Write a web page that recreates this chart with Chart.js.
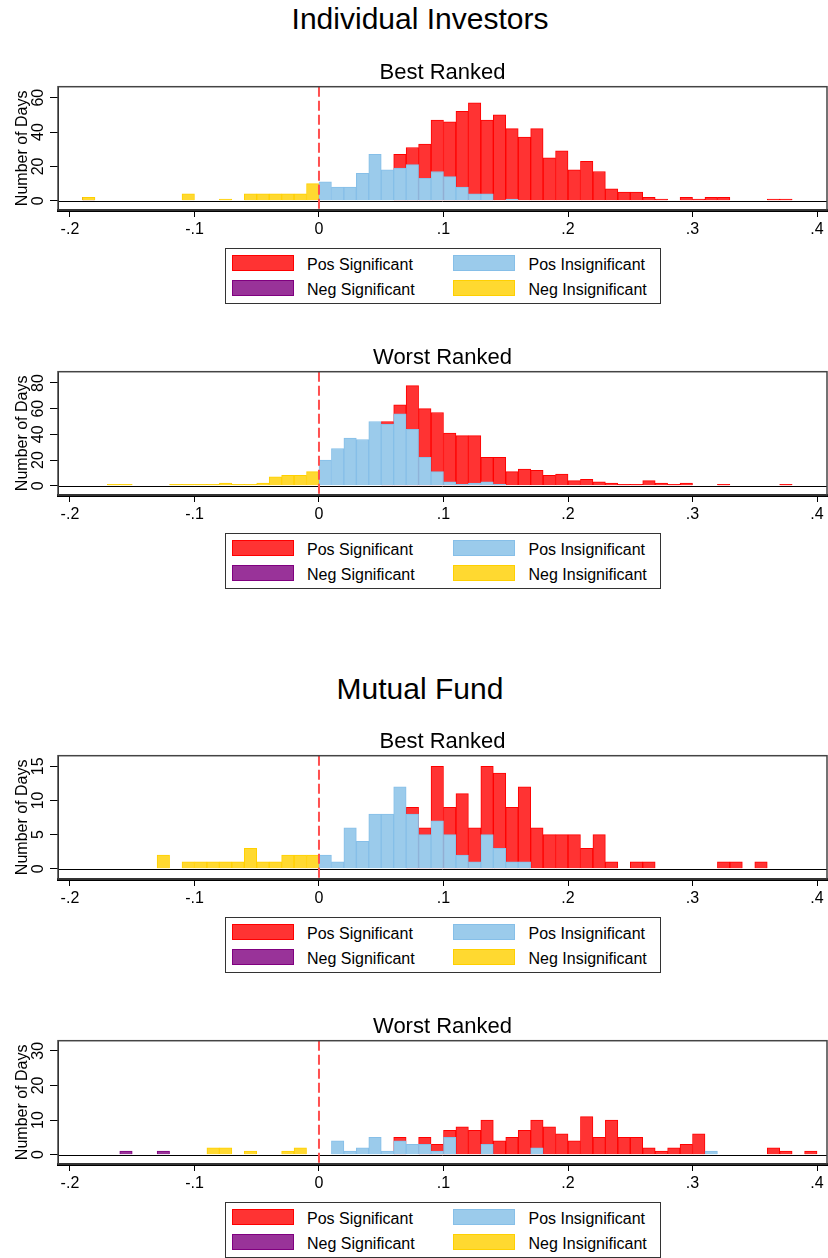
<!DOCTYPE html>
<html>
<head>
<meta charset="utf-8">
<script src="https://cdn.jsdelivr.net/npm/chart.js@4.4.1/dist/chart.umd.min.js"></script>
<style>
  body { margin: 0; background: #fff; font-family: "Liberation Sans", Arial, sans-serif; }
  #page { position: relative; width: 828px; height: 1258px; overflow: hidden; background: #fff; }
  .bigtitle { position: absolute; left: 0; width: 840px; text-align: center; font-size: 30px; line-height: 30px; color: #000; }
  canvas { position: absolute; left: 0; }
  .legend { position: absolute; left: 225px; width: 434px; height: 54px; border: 1px solid #333; background: #fff; }
  .sw { position: absolute; width: 60px; height: 14px; border: 1px solid; }
  .lt { position: absolute; font-size: 16px; line-height: 16px; color: #000; white-space: nowrap; }
</style>
</head>
<body>
<div id="page">
  <div class="bigtitle" style="top:4px">Individual Investors</div>
  <div class="bigtitle" style="top:674px">Mutual Fund</div>
</div>
<script>
// histogram bins (left edges), width .01
const binWidth = 0.01;
const negBins = [-0.19, -0.18, -0.17, -0.16, -0.15, -0.14, -0.13, -0.12, -0.11, -0.10,
                 -0.09, -0.08, -0.07, -0.06, -0.05, -0.04, -0.03, -0.02, -0.01];
const posBins = [0.00, 0.01, 0.02, 0.03, 0.04, 0.05, 0.06, 0.07, 0.08, 0.09,
                 0.10, 0.11, 0.12, 0.13, 0.14, 0.15, 0.16, 0.17, 0.18, 0.19,
                 0.20, 0.21, 0.22, 0.23, 0.24, 0.25, 0.26, 0.27, 0.28, 0.29,
                 0.30, 0.31, 0.32, 0.33, 0.34, 0.35, 0.36, 0.37, 0.38, 0.39];
const xTicks = [-0.2, -0.1, 0, 0.1, 0.2, 0.3, 0.4];

const seriesNames = ['Pos Significant', 'Pos Insignificant', 'Neg Significant', 'Neg Insignificant'];
const fillColors = ['#ff3333', '#9bcbeb', '#993399', '#ffd930'];
const lineColors = ['#ff0000', '#86bfe8', '#800080', '#ffd000'];

// Individual investors - best ranked
const iiBestPosSig   = [0,0,0,0,0,0,27,31,33,47,46,52,57,47,50,42,37,42,25,29,18,23,17,7,5,5,2,1,0,2,1,2,2,0,0,0,1,1,0,0];
const iiBestPosInsig = [11,8,8,16,27,18,19,21,13,17,14,8,4,4,0,1,0,0,0,0,0,0,0,0,0,0,0,0,0,0,0,0,0,0,0,0,0,0,0,0];
const iiBestNegSig   = [2,0,0,0,0,0,0,0,0,0,0,0,0,0,0,0,0,0,0];
const iiBestNegInsig = [2,0,0,0,0,0,0,0,4,0,0,1,0,4,4,4,4,4,10];
const iiBestYTicks   = [0, 20, 40, 60];

// Individual investors - worst ranked
const iiWorstPosSig   = [0,0,0,0,0,50,63,78,60,57,41,39,39,22,22,11,13,12,8,9,4,5,3,2,1,1,4,2,1,2,0,0,1,0,0,0,0,1,0,0];
const iiWorstPosInsig = [20,29,37,36,50,48,56,44,22,11,3,1,2,3,1,0,0,0,0,0,0,0,0,0,0,0,0,0,0,0,0,0,0,0,0,0,0,0,0,0];
const iiWorstNegSig   = [0,0,0,0,0,0,0,0,0,0,0,0,0,0,0,0,0,0,0];
const iiWorstNegInsig = [0,0,1,1,0,0,0,1,1,1,1,2,1,1,2,7,8,8,11];
const iiWorstYTicks   = [0, 20, 40, 60, 80];

// Mutual fund - best ranked
const mfBestPosSig   = [0,0,0,0,0,0,0,9,6,15,9,11,6,15,14,9,12,6,5,5,5,3,5,1,0,1,1,0,0,0,0,0,1,1,0,1,0,0,0,0];
const mfBestPosInsig = [2,1,6,4,8,8,12,8,5,7,5,2,1,5,3,1,1,0,0,0,0,0,0,0,0,0,0,0,0,0,0,0,0,0,0,0,0,0,0,0];
const mfBestNegSig   = [0,0,0,0,0,0,0,0,0,0,0,0,0,0,0,0,0,0,0];
const mfBestNegInsig = [0,0,0,0,0,0,2,0,1,1,1,1,1,3,1,1,2,2,2];
const mfBestYTicks   = [0, 5, 10, 15];

// Mutual fund - worst ranked
const mfWorstPosSig   = [0,0,0,0,0,0,5,0,5,3,7,8,7,10,4,5,7,10,8,6,4,11,5,10,5,5,2,1,2,3,6,0,0,0,0,0,2,1,0,1];
const mfWorstPosInsig = [0,4,1,2,5,1,4,3,3,1,5,0,0,3,0,0,0,2,0,0,0,0,0,0,0,0,0,0,0,0,0,1,0,0,0,0,0,0,0,0];
const mfWorstNegSig   = [0,0,0,1,0,0,1,0,0,0,0,0,0,0,0,0,0,0,0];
const mfWorstNegInsig = [0,0,0,0,0,0,0,0,0,0,2,2,0,1,0,0,1,2,0];
const mfWorstYTicks   = [0, 10, 20, 30];

const panels = [
  { top: 55,   legendTop: 248,  title: 'Best Ranked',  yMin: -5.4,  yMax: 66.4, yTicks: iiBestYTicks,
    series: [iiBestPosSig, iiBestPosInsig, iiBestNegSig, iiBestNegInsig] },
  { top: 340,  legendTop: 533,  title: 'Worst Ranked', yMin: -7.25, yMax: 88.8, yTicks: iiWorstYTicks,
    series: [iiWorstPosSig, iiWorstPosInsig, iiWorstNegSig, iiWorstNegInsig] },
  { top: 724,  legendTop: 917,  title: 'Best Ranked',  yMin: -1.5,  yMax: 16.55, yTicks: mfBestYTicks,
    series: [mfBestPosSig, mfBestPosInsig, mfBestNegSig, mfBestNegInsig] },
  { top: 1009, legendTop: 1202, title: 'Worst Ranked', yMin: -2.7,  yMax: 32.9, yTicks: mfWorstYTicks,
    series: [mfWorstPosSig, mfWorstPosInsig, mfWorstNegSig, mfWorstNegInsig] }
];

const FONT = '"Liberation Sans", Arial, sans-serif';

function toPoints(bins, counts) {
  const pts = [];
  counts.forEach((c, i) => { if (c > 0) pts.push({ x: bins[i] + binWidth / 2, y: c }); });
  return pts;
}

function fmtTick(v) {
  if (Math.abs(v) < 1e-9) return '0';
  return (v < 0 ? '-' : '') + Math.abs(v).toFixed(1).replace(/^0/, '');
}

const decor = {
  id: 'decor',
  afterDatasetsDraw(chart) {
    const { ctx, chartArea: a, scales: { x, y } } = chart;
    ctx.save();
    // zero line
    const y0 = Math.round(y.getPixelForValue(0)) + 0.5;
    ctx.strokeStyle = '#000';
    ctx.lineWidth = 1;
    ctx.beginPath(); ctx.moveTo(a.left, y0); ctx.lineTo(a.right, y0); ctx.stroke();
    // dashed reference line at 0
    const x0 = x.getPixelForValue(0);
    ctx.strokeStyle = '#ff5050';
    ctx.lineWidth = 2;
    ctx.setLineDash([10, 4]);
    ctx.beginPath(); ctx.moveTo(x0, a.top); ctx.lineTo(x0, a.bottom); ctx.stroke();
    ctx.setLineDash([]);
    // plot region frame
    ctx.strokeStyle = '#444';
    ctx.lineWidth = 1.5;
    ctx.strokeRect(a.left, a.top, a.right - a.left, a.bottom - a.top);
    ctx.restore();
  },
  afterDraw(chart, args, opts) {
    const { ctx, chartArea: a, scales: { y } } = chart;
    ctx.save();
    ctx.fillStyle = '#000';
    // subtitle
    ctx.font = '22px ' + FONT;
    ctx.textAlign = 'center';
    ctx.textBaseline = 'alphabetic';
    ctx.fillText(opts.title, (a.left + a.right) / 2, a.top - 7.5);
    // y axis title, rotated
    ctx.font = '16px ' + FONT;
    ctx.save();
    ctx.translate(26.5, (a.top + a.bottom) / 2);
    ctx.rotate(-Math.PI / 2);
    ctx.fillText('Number of Days', 0, 0);
    ctx.restore();
    // y tick labels, rotated like the original
    ctx.font = '16px ' + FONT;
    y.ticks.forEach(t => {
      ctx.save();
      ctx.translate(43, y.getPixelForValue(t.value));
      ctx.rotate(-Math.PI / 2);
      ctx.fillText(String(t.value), 0, 0);
      ctx.restore();
    });
    ctx.restore();
  }
};

function makeLegend(top) {
  const box = document.createElement('div');
  box.className = 'legend';
  box.style.top = top + 'px';
  const cols = [5.5, 227];
  const rows = [6, 31];
  seriesNames.forEach((name, i) => {
    const cx = cols[i % 2], cy = rows[Math.floor(i / 2)];
    const sw = document.createElement('div');
    sw.className = 'sw';
    sw.style.left = cx + 'px';
    sw.style.top = cy + 'px';
    sw.style.background = fillColors[i];
    sw.style.borderColor = lineColors[i];
    box.appendChild(sw);
    const lt = document.createElement('div');
    lt.className = 'lt';
    lt.style.left = (cx + 75.5) + 'px';
    lt.style.top = (cy + 1.5) + 'px';
    lt.textContent = name;
    box.appendChild(lt);
  });
  document.getElementById('page').appendChild(box);
}

panels.forEach((p, idx) => {
  const canvas = document.createElement('canvas');
  canvas.width = 828;
  canvas.height = 190;
  canvas.style.top = p.top + 'px';
  document.getElementById('page').appendChild(canvas);

  const bins = [posBins, posBins, negBins, negBins];
  const drawOrder = [2, 1, 2, 1]; // blue over red, yellow over purple

  new Chart(canvas.getContext('2d'), {
    type: 'bar',
    data: {
      datasets: p.series.map((s, i) => ({
        label: seriesNames[i],
        data: toPoints(bins[i], s),
        backgroundColor: fillColors[i],
        borderColor: lineColors[i],
        borderWidth: 1,
        borderSkipped: 'start',
        order: drawOrder[i],
        grouped: false,
        barPercentage: 1,
        categoryPercentage: 1
      }))
    },
    options: {
      responsive: false,
      animation: false,
      devicePixelRatio: 1,
      layout: { padding: { top: 31.7, right: 1, bottom: 5, left: 0 } },
      plugins: {
        legend: { display: false },
        tooltip: { enabled: false },
        decor: { title: p.title }
      },
      scales: {
        x: {
          type: 'linear',
          offset: false,
          min: -0.2096,
          max: 0.408,
          afterBuildTicks: s => { s.ticks = xTicks.map(v => ({ value: v })); },
          afterFit: s => { s.height = 30; },
          grid: { drawOnChartArea: false, drawTicks: true, tickLength: 7, color: '#000', offset: false },
          border: { display: true, color: '#000', width: 3 },
          ticks: {
            color: '#000',
            font: { size: 16, family: FONT },
            padding: 3,
            maxRotation: 0,
            autoSkip: false,
            callback: v => fmtTick(v)
          }
        },
        y: {
          min: p.yMin,
          max: p.yMax,
          afterBuildTicks: s => { s.ticks = p.yTicks.map(v => ({ value: v })); },
          afterFit: s => { s.width = 58; },
          grid: { drawOnChartArea: false, drawTicks: true, tickLength: 8, color: '#000' },
          border: { display: true, color: '#000', width: 1 },
          ticks: { display: false }
        }
      }
    },
    plugins: [decor]
  });

  makeLegend(p.legendTop);
});
</script>
</body>
</html>
